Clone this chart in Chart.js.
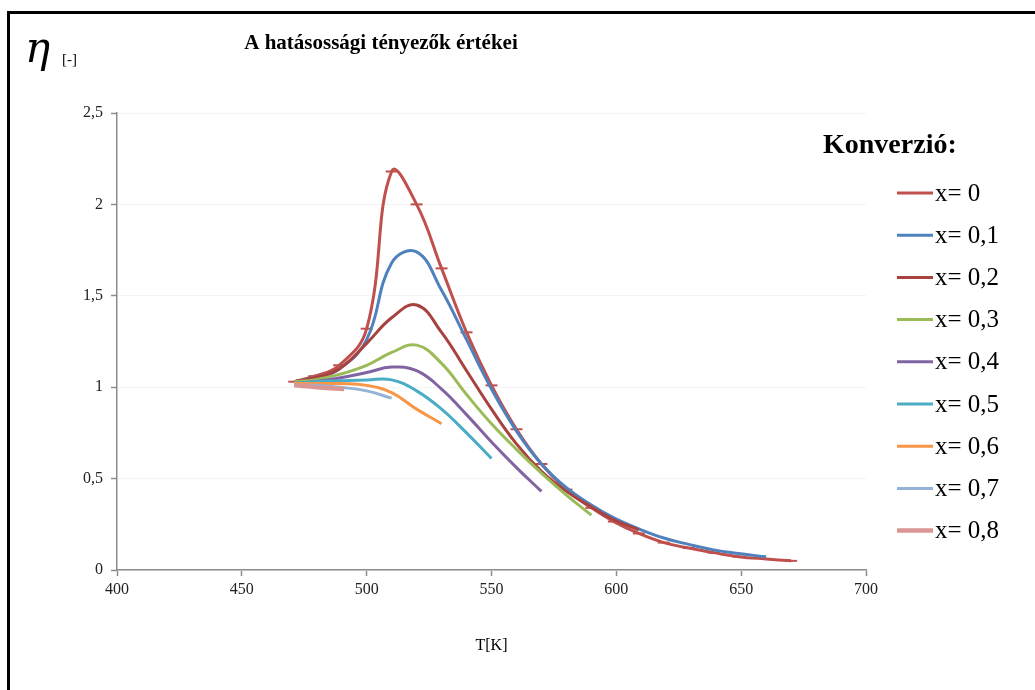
<!DOCTYPE html>
<html>
<head>
<meta charset="utf-8">
<title>A hatásossági tényezők értékei</title>
<script src="https://cdn.jsdelivr.net/npm/chart.js@4.4.1/dist/chart.umd.min.js"></script>
<style>
  html, body { margin: 0; padding: 0; background: #fff; }
  #wrap { position: relative; width: 1035px; height: 690px; overflow: hidden; }
  #frame { position: absolute; left: 7px; top: 11px; width: 1100px; height: 800px;
           border-left: 3px solid #000; border-top: 3px solid #000; box-sizing: border-box; }
  canvas { position: absolute; left: 0; top: 0; }
</style>
</head>
<body>
<div id="wrap">
  <div id="frame"></div>
  <canvas id="c" width="1035" height="690"></canvas>
</div>
<script>
// Efficiency factor η versus temperature T [K] for each conversion level x
const seriesLabels = ['x= 0', 'x= 0,1', 'x= 0,2', 'x= 0,3', 'x= 0,4', 'x= 0,5', 'x= 0,6', 'x= 0,7', 'x= 0,8'];
const seriesColors = ['#C0504D', '#4F81BD', '#A8423F', '#9BBB59', '#8064A2', '#4BACC6', '#F79646', '#95B3D7', '#D99694'];

const T_x00 = [471, 479, 489, 500, 510, 520, 530, 540, 550, 560, 570, 580, 590, 599, 609, 619, 629, 639, 649, 660, 670];
const eta_x00 = [1.03, 1.06, 1.12, 1.32, 2.18, 2.00, 1.65, 1.30, 1.01, 0.77, 0.58, 0.44, 0.34, 0.265, 0.20, 0.15, 0.12, 0.095, 0.073, 0.06, 0.05];

const T_x01 = [471, 479, 489, 500, 510, 520, 530, 540, 550, 560, 570, 580, 590, 599, 609, 619, 629, 639, 649, 660];
const eta_x01 = [1.03, 1.05, 1.10, 1.26, 1.68, 1.74, 1.53, 1.26, 0.99, 0.76, 0.58, 0.45, 0.355, 0.285, 0.225, 0.175, 0.14, 0.11, 0.09, 0.072];

const T_x02 = [471, 479, 489, 500, 510, 520, 530, 540, 550, 560, 570, 580, 590, 599, 609];
const eta_x02 = [1.03, 1.05, 1.10, 1.24, 1.38, 1.45, 1.30, 1.09, 0.88, 0.69, 0.54, 0.43, 0.345, 0.275, 0.22];

const T_x03 = [471, 479, 489, 500, 510, 520, 530, 540, 550, 560, 570, 580, 590];
const eta_x03 = [1.03, 1.04, 1.07, 1.12, 1.19, 1.23, 1.13, 0.96, 0.80, 0.66, 0.53, 0.41, 0.30];

const T_x04 = [471, 479, 489, 500, 510, 520, 530, 540, 550, 560, 570];
const eta_x04 = [1.02, 1.03, 1.05, 1.08, 1.11, 1.09, 0.99, 0.85, 0.70, 0.56, 0.43];

const T_x05 = [471, 479, 489, 500, 510, 520, 530, 540, 550];
const eta_x05 = [1.02, 1.03, 1.035, 1.04, 1.04, 0.98, 0.88, 0.75, 0.61];

const T_x06 = [471, 479, 489, 500, 510, 520, 530];
const eta_x06 = [1.02, 1.02, 1.02, 1.01, 0.97, 0.88, 0.80];

const T_x07 = [471, 479, 489, 500, 510];
const eta_x07 = [1.01, 1.01, 1.00, 0.98, 0.94];

const T_x08 = [471, 480, 491];
const eta_x08 = [1.01, 1.00, 0.99];

const xTickLabels = ['400', '450', '500', '550', '600', '650', '700'];
const yTickLabels = ['0', '0,5', '1', '1,5', '2', '2,5'];

const allT = [T_x00, T_x01, T_x02, T_x03, T_x04, T_x05, T_x06, T_x07, T_x08];
const allEta = [eta_x00, eta_x01, eta_x02, eta_x03, eta_x04, eta_x05, eta_x06, eta_x07, eta_x08];

const SERIF = "'Liberation Serif', 'Times New Roman', serif";
const n = seriesLabels.length;

const datasets = seriesLabels.map((label, i) => ({
  label,
  data: allT[i].map((t, k) => ({ x: t, y: allEta[i][k] })),
  borderColor: seriesColors[i],
  backgroundColor: seriesColors[i],
  borderWidth: i === 8 ? 4.5 : 3,
  tension: 0.42,
  fill: false,
  // the x= 0 series carries short horizontal markers at its measured points
  pointStyle: 'line',
  pointRadius: i === 0 ? 6 : 0,
  pointBorderWidth: 2,
  pointBorderColor: seriesColors[i],
  order: n - i
}));

// Title, axis captions and the legend block, drawn onto the canvas
const captions = {
  id: 'captions',
  afterDraw(chart) {
    const ctx = chart.ctx;
    const area = chart.chartArea;
    ctx.save();
    ctx.fillStyle = '#000';
    ctx.textBaseline = 'middle';

    ctx.font = "italic 42px 'DejaVu Serif', serif";
    ctx.textAlign = 'left';
    ctx.fillText('η', 25, 51);
    ctx.font = '15px ' + SERIF;
    ctx.fillText('[-]', 62, 60);

    ctx.font = 'bold 21px ' + SERIF;
    ctx.textAlign = 'center';
    ctx.fillText('A hatásossági tényezők értékei', 381, 44);

    ctx.font = '16px ' + SERIF;
    ctx.fillText('T[K]', (area.left + area.right) / 2, 646);

    ctx.font = 'bold 28px ' + SERIF;
    ctx.textAlign = 'left';
    ctx.fillText('Konverzió:', 823, 146);

    ctx.font = '25px ' + SERIF;
    chart.data.datasets.forEach((ds, i) => {
      const y = 193 + i * 42.2;
      ctx.strokeStyle = ds.borderColor;
      ctx.lineWidth = i === 8 ? 4.5 : 3;
      ctx.beginPath();
      ctx.moveTo(897, y);
      ctx.lineTo(933, y);
      ctx.stroke();
      ctx.fillStyle = '#000';
      ctx.fillText(ds.label, 935, y + 1);
    });
    ctx.restore();
  }
};

new Chart(document.getElementById('c'), {
  type: 'line',
  data: { datasets },
  plugins: [captions],
  options: {
    responsive: false,
    animation: false,
    devicePixelRatio: 1,
    layout: { padding: { top: 113, right: 169, left: 0, bottom: 0 } },
    plugins: { legend: { display: false }, tooltip: { enabled: false } },
    scales: {
      x: {
        type: 'linear',
        min: 400, max: 700,
        afterFit(scale) { scale.height = 120; },
        afterBuildTicks(scale) { scale.ticks = xTickLabels.map(v => ({ value: Number(v) })); },
        ticks: {
          callback: (v, i) => xTickLabels[i],
          font: { family: SERIF, size: 16 },
          color: '#222',
          padding: 4,
          maxRotation: 0
        },
        grid: { drawOnChartArea: false, tickLength: 6, tickColor: '#8c8c8c', tickWidth: 1.5 },
        border: { color: '#8c8c8c', width: 1.5 }
      },
      y: {
        min: 0, max: 2.5,
        afterFit(scale) { scale.width = 117; },
        afterBuildTicks(scale) { scale.ticks = yTickLabels.map(v => ({ value: Number(v.replace(',', '.')) })); },
        ticks: {
          callback: (v, i) => yTickLabels[i],
          font: { family: SERIF, size: 16 },
          color: '#222',
          padding: 8
        },
        grid: { color: '#f4f4f4', lineWidth: 1, tickLength: 6, tickColor: '#8c8c8c', tickWidth: 1.5 },
        border: { color: '#8c8c8c', width: 1.5 }
      }
    }
  }
});
</script>
</body>
</html>
